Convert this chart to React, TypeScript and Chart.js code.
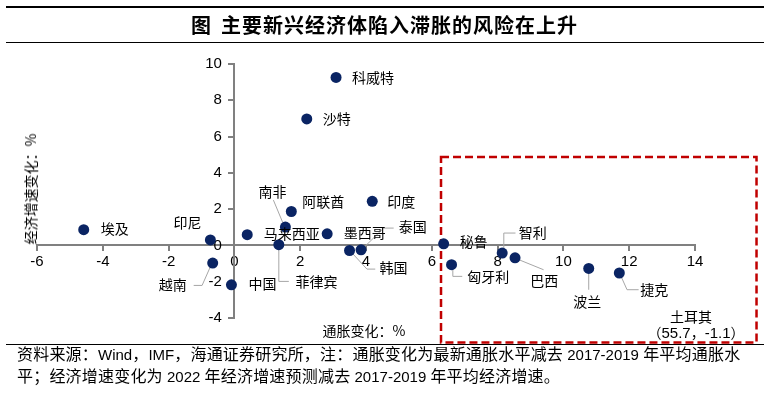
import React, { useEffect, useRef } from "react";
import { Chart, registerables } from "chart.js";

Chart.register(...registerables);

// ---- data ----
const countries = [
  "科威特", "沙特", "埃及", "印尼", "越南", "中国", "马来西亚", "南非", "阿联酋", "菲律宾",
  "墨西哥", "印度", "韩国", "泰国", "秘鲁", "匈牙利", "智利", "巴西", "波兰", "捷克",
];
// 通胀变化 (%)
const inflationChange = [
  3.09, 2.2, -4.58, -0.73, -0.66, -0.09, 0.39, 1.55, 1.73, 1.35,
  2.82, 4.19, 3.5, 3.85, 6.36, 6.6, 8.14, 8.53, 10.77, 11.7,
];
// 经济增速变化 (%)
const growthChange = [
  9.26, 6.97, 0.87, 0.3, -0.97, -2.17, 0.59, 1.01, 1.87, 0.04,
  0.64, 2.43, -0.28, -0.24, 0.09, -1.06, -0.42, -0.68, -1.27, -1.52,
];
const xTickValues = [-6, -4, -2, 0, 2, 4, 6, 8, 10, 12, 14];
const yTickValues = [-4, -2, 0, 2, 4, 6, 8, 10];

const titleText = "主要新兴经济体陷入滞胀的风险在上升";
const xAxisTitle = "通胀变化：%";
const yAxisTitle = "经济增速变化：%";
const noteLine1 = "资料来源：Wind，IMF，海通证券研究所，注：通胀变化为最新通胀水平减去 2017-2019 年平均通胀水";
const noteLine2 = "平；经济增速变化为 2022 年经济增速预测减去 2017-2019 年平均经济增速。";
const outlierName = "土耳其";
const outlierValue = "（55.7，-1.1）";
// stagflation-risk box, in axis units
const riskBox = { xMin: 6.28, xMax: 15.87, yMin: -5.35, yMax: 4.87 };

// label placement (pixel offsets from the point), with optional leader lines
type LabelPos = { dx: number; dy: number; leader?: [number, number][] };
const labelPos: Record<string, LabelPos> = {
  科威特: { dx: 16, dy: 0 },
  沙特: { dx: 16, dy: 0 },
  埃及: { dx: 17, dy: -1 },
  印尼: { dx: -37, dy: -17 },
  越南: { dx: -54, dy: 22, leader: [[-2, 3], [-10.6, 22.4], [-19, 22.4]] },
  中国: { dx: 17, dy: -1 },
  马来西亚: { dx: 16.6, dy: -1 },
  南非: { dx: -27, dy: -35.6, leader: [[-12, -27], [-2, -3]] },
  阿联酋: { dx: 11, dy: -10 },
  菲律宾: { dx: 16.7, dy: 36.7, leader: [[0, 5], [0, 36.7], [10, 36.7]] },
  墨西哥: { dx: 16.6, dy: -0.7 },
  印度: { dx: 15, dy: 0 },
  韩国: { dx: 30, dy: 17.6, leader: [[3, 3], [17.4, 18.6], [25.7, 18.6]] },
  泰国: { dx: 37.6, dy: -23.3, leader: [[3, -2.5], [22.6, -21.7], [32.6, -21.7]] },
  秘鲁: { dx: 16, dy: -2.3 },
  匈牙利: { dx: 15.7, dy: 11.7, leader: [[1.3, 5], [1.3, 11.7], [10.7, 11.7]] },
  智利: { dx: 16.6, dy: -20, leader: [[1.6, -5], [1.6, -20], [13.3, -20]] },
  巴西: { dx: 15.3, dy: 22.7, leader: [[4, 2], [28.6, 12]] },
  波兰: { dx: -15.6, dy: 33, leader: [[0, 5], [0, 21.3]] },
  捷克: { dx: 21, dy: 16.7, leader: [[2, 4], [7.7, 16.7], [19.3, 16.7]] },
};

const CJK_FONT = '"Noto Sans CJK SC", sans-serif';
const MIX_FONT = '"Liberation Sans", "Noto Sans CJK SC", sans-serif';

function Mixed({ text, cjk, latin, cjkSpacing = 0 }: { text: string; cjk: number; latin: number; cjkSpacing?: number }) {
  const re = /([\u3000-\u9fff\uff00-\uffef]+)/;
  const parts = text.split(re);
  return (
    <>
      {parts.map((p, i) =>
        p ? (
          <span
            key={i}
            style={re.test(p) ? { fontSize: cjk, letterSpacing: cjkSpacing } : { fontSize: latin }}
          >
            {p}
          </span>
        ) : null
      )}
    </>
  );
}

const labelPlugin = {
  id: "pointLabels",
  beforeDatasetsDraw(chart: any) {
    const ctx = chart.ctx;
    const meta = chart.getDatasetMeta(0);
    const xs = chart.scales.x;
    const ys = chart.scales.y;
    // risk box
    ctx.save();
    ctx.strokeStyle = "#C00000";
    ctx.lineWidth = 2.5;
    ctx.setLineDash([8, 4]);
    const x1 = xs.getPixelForValue(riskBox.xMin);
    const x2 = xs.getPixelForValue(riskBox.xMax);
    const y1 = ys.getPixelForValue(riskBox.yMax);
    const y2 = ys.getPixelForValue(riskBox.yMin);
    ctx.strokeRect(x1, y1, x2 - x1, y2 - y1);
    ctx.restore();
    // leader lines
    ctx.save();
    ctx.strokeStyle = "#A6A6A6";
    ctx.lineWidth = 1;
    countries.forEach((c, i) => {
      const lp = labelPos[c];
      const el = meta.data[i];
      if (!lp || !lp.leader || !el) return;
      ctx.beginPath();
      lp.leader.forEach(([dx, dy], k) => {
        if (k === 0) ctx.moveTo(el.x + dx, el.y + dy);
        else ctx.lineTo(el.x + dx, el.y + dy);
      });
      ctx.stroke();
    });
    ctx.restore();
  },
  afterDatasetsDraw(chart: any) {
    const ctx = chart.ctx;
    const meta = chart.getDatasetMeta(0);
    ctx.save();
    ctx.font = `14px ${CJK_FONT}`;
    ctx.fillStyle = "#000";
    ctx.textAlign = "left";
    ctx.textBaseline = "middle";
    countries.forEach((c, i) => {
      const lp = labelPos[c];
      const el = meta.data[i];
      if (!lp || !el) return;
      ctx.fillText(c, el.x + lp.dx, el.y + lp.dy);
    });
    ctx.restore();
  },
};

export default function App() {
  const canvasRef = useRef<HTMLCanvasElement | null>(null);

  useEffect(() => {
    if (!canvasRef.current) return;
    const points = inflationChange.map((x, i) => ({ x, y: growthChange[i] }));
    const axisColor = "#808080";
    const chart = new Chart(canvasRef.current, {
      type: "scatter",
      data: {
        datasets: [
          {
            label: "新兴经济体",
            data: points,
            backgroundColor: "#0A2463",
            borderColor: "#0A2463",
            pointRadius: 5.5,
            pointBorderWidth: 0,
          },
        ],
      },
      options: {
        animation: false,
        responsive: false,
        devicePixelRatio: 1,
        layout: { padding: { left: 37, right: 85, top: 64, bottom: 76 } },
        plugins: {
          legend: { display: false },
          tooltip: { enabled: false },
          title: { display: false },
        },
        scales: {
          x: {
            type: "linear",
            position: { y: 0 },
            min: xTickValues[0],
            max: xTickValues[xTickValues.length - 1],
            afterBuildTicks: (s: any) => {
              s.ticks = xTickValues.map((v) => ({ value: v }));
            },
            border: { color: axisColor, width: 2 },
            grid: { drawOnChartArea: false, drawTicks: true, tickLength: 5, color: axisColor, lineWidth: 2 },
            ticks: { color: "#000", padding: 2, maxRotation: 0, font: { family: "Liberation Sans", size: 15 } },
          },
          y: {
            type: "linear",
            position: { x: 0 },
            min: yTickValues[0],
            max: yTickValues[yTickValues.length - 1],
            afterBuildTicks: (s: any) => {
              s.ticks = yTickValues.map((v) => ({ value: v }));
            },
            border: { color: axisColor, width: 2 },
            grid: { drawOnChartArea: false, drawTicks: true, tickLength: 5, color: axisColor, lineWidth: 2 },
            ticks: {
              color: "#000",
              padding: 6,
              font: { family: "Liberation Sans", size: 15 },
              // centre-positioned axes right-align labels on the axis line; pad them off it
              callback: (v: any) => `${v}   `,
            },
          },
        },
      },
      plugins: [labelPlugin],
    } as any);
    return () => chart.destroy();
  }, []);

  return (
    <div
      style={{
        position: "fixed",
        left: 0,
        top: 0,
        width: 780,
        height: 394,
        background: "#fff",
        overflow: "hidden",
        fontFamily: MIX_FONT,
        color: "#000",
      }}
    >
      <canvas ref={canvasRef} width={780} height={394} style={{ position: "absolute", left: 0, top: 0 }} />
      {/* title rules */}
      <div style={{ position: "absolute", left: 6, top: 6, width: 758, height: 1.5, background: "#000" }} />
      <div style={{ position: "absolute", left: 6, top: 41.5, width: 758, height: 1.5, background: "#000" }} />
      <div
        style={{
          position: "absolute",
          left: 191,
          top: 11,
          lineHeight: "28px",
          fontSize: 20,
          fontWeight: 700,
          letterSpacing: 1,
          fontFamily: CJK_FONT,
          whiteSpace: "nowrap",
        }}
      >
        <span>图</span>
        <span style={{ marginLeft: 9 }}>{titleText}</span>
      </div>
      {/* axis titles */}
      <div
        style={{
          position: "absolute",
          left: 364,
          top: 330,
          transform: "translate(-50%, -50%)",
          fontSize: 14,
          fontFamily: CJK_FONT,
          whiteSpace: "nowrap",
        }}
      >
        {xAxisTitle}
      </div>
      <div
        style={{
          position: "absolute",
          left: 30,
          top: 189,
          transform: "translate(-50%, -50%) rotate(-90deg)",
          fontSize: 14,
          fontFamily: CJK_FONT,
          whiteSpace: "nowrap",
        }}
      >
        {yAxisTitle}
      </div>
      {/* outlier annotation */}
      <div
        style={{
          position: "absolute",
          left: 691,
          top: 316,
          transform: "translate(-50%, -50%)",
          fontSize: 14,
          fontFamily: CJK_FONT,
          whiteSpace: "nowrap",
        }}
      >
        {outlierName}
      </div>
      <div
        style={{
          position: "absolute",
          left: 696,
          top: 333,
          transform: "translate(-50%, -50%)",
          whiteSpace: "nowrap",
          lineHeight: "18px",
        }}
      >
        <Mixed text={outlierValue} cjk={14} latin={15} />
      </div>
      {/* note */}
      <div style={{ position: "absolute", left: 6, top: 343.5, width: 758, height: 1.5, background: "#000" }} />
      <div style={{ position: "absolute", left: 17, top: 345, lineHeight: "20px", whiteSpace: "pre" }}>
        <Mixed text={noteLine1} cjk={16} latin={15} cjkSpacing={0.2} />
      </div>
      <div style={{ position: "absolute", left: 17, top: 367, lineHeight: "20px", whiteSpace: "pre" }}>
        <Mixed text={noteLine2} cjk={16} latin={15} cjkSpacing={0.2} />
      </div>
    </div>
  );
}
